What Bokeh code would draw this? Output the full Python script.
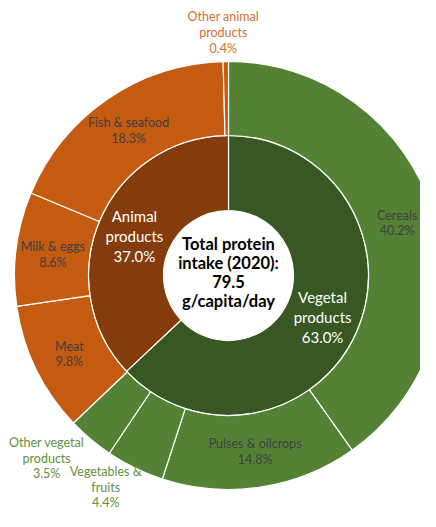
import math
from bokeh.plotting import figure
from bokeh.models import Range1d
from bokeh.core.properties import value
from bokeh.embed import file_html
from bokeh.resources import INLINE

# ---- data ----
group_labels = ["Vegetal\nproducts", "Animal\nproducts"]
group_values = [63.0, 37.0]
item_labels = ["Cereals", "Pulses & oilcrops", "Vegetables &\nfruits",
               "Other vegetal\nproducts", "Meat", "Milk & eggs",
               "Fish & seafood", "Other animal\nproducts"]
item_values = [40.2, 14.8, 4.4, 3.5, 9.8, 8.6, 18.3, 0.4]
item_group = [0, 0, 0, 0, 1, 1, 1, 1]
center_text = "Total protein\nintake (2020):\n79.5\ng/capita/day"

# ---- styles / layout ----
group_colors = ["#385723", "#843C0C"]
item_colors = ["#548235", "#C55A11"]
outside_text_colors = ["#5E9140", "#D2702C"]
R_HOLE, R_MID, R_OUT = 65, 140, 214
# outside label placement: (radius, angle tweak in degrees)
outside_layout = {2: (244, -4.3), 3: (257, -4.9), 7: (244, 0.5)}
FONT = "Lato"


def wedges(values):
    total = sum(values)
    starts, ends, mids = [], [], []
    cum = 0.0
    for v in values:
        s = math.pi / 2 - 2 * math.pi * cum / total
        cum += v
        e = math.pi / 2 - 2 * math.pi * cum / total
        starts.append(s)
        ends.append(e)
        mids.append((s + e) / 2)
    return starts, ends, mids


p = figure(width=420, height=511, x_range=Range1d(-228, 192), y_range=Range1d(-236, 275),
           toolbar_location=None, output_backend="svg", min_border=0)
p.axis.visible = False
p.grid.visible = False
p.outline_line_color = None
p.background_fill_color = "white"

# inner ring
gs, ge, gm = wedges(group_values)
p.annular_wedge(x=0, y=0, inner_radius=R_HOLE, outer_radius=R_MID,
                start_angle=gs, end_angle=ge, direction="clock",
                fill_color=group_colors, line_color="white", line_width=1.2)

# outer ring
s, e, m = wedges(item_values)
p.annular_wedge(x=0, y=0, inner_radius=R_MID, outer_radius=R_OUT,
                start_angle=s, end_angle=e, direction="clock",
                fill_color=[item_colors[g] for g in item_group],
                line_color="white", line_width=1.2)

# inner labels
gx, gy, gt = [], [], []
rr = (R_HOLE + R_MID) / 2
for lab, v, a in zip(group_labels, group_values, gm):
    gx.append(rr * math.cos(a))
    gy.append(rr * math.sin(a))
    gt.append(f"{lab}\n{v:.1f}%")
p.text(x=gx, y=gy, text=gt, text_align="center", text_baseline="middle",
       text_color="white", text_font=value(FONT), text_font_size="15px",
       text_line_height=1.1, y_offset=1)

# outer labels
ix, iy, it = [], [], []
ox, oy, ot, oc = [], [], [], []
rr = (R_MID + R_OUT) / 2
for i, (lab, v, a) in enumerate(zip(item_labels, item_values, m)):
    t = f"{lab}\n{v:.1f}%"
    if i in outside_layout:
        r, da = outside_layout[i]
        aa = a + math.radians(da)
        ox.append(r * math.cos(aa))
        oy.append(r * math.sin(aa))
        ot.append(t)
        oc.append(outside_text_colors[item_group[i]])
    else:
        ix.append(rr * math.cos(a))
        iy.append(rr * math.sin(a))
        it.append(t)
p.text(x=ix, y=iy, text=it, text_align="center", text_baseline="middle",
       text_color="#404040", text_font=value(FONT), text_font_size="12.5px",
       text_line_height=1.04, y_offset=1)
p.text(x=ox, y=oy, text=ot, text_color=oc, text_align="center", text_baseline="middle",
       text_font=value(FONT), text_font_size="12.5px", text_line_height=1.04, y_offset=1)

# center text
p.text(x=[0], y=[0], text=[center_text], text_align="center", text_baseline="middle",
       text_color="black", text_font=value(FONT), text_font_size="16.5px",
       text_font_style="bold", text_line_height=0.95, y_offset=-3)

open("out.html", "w").write(file_html(p, INLINE))
